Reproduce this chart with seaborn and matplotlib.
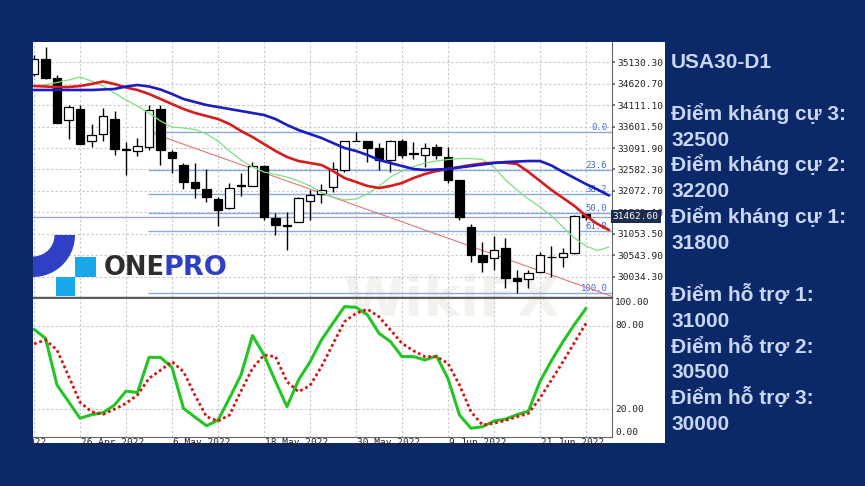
import numpy as np
import pandas as pd
import matplotlib
matplotlib.use("Agg")
import matplotlib.pyplot as plt
import seaborn as sns
from matplotlib.patches import Rectangle, Wedge
from matplotlib.transforms import blended_transform_factory

# ---------------- data ----------------
bar_index = list(range(49))
opens = [34859, 35216, 34764, 33751, 34027, 33252, 33426, 33775, 33062, 33022,
         33117, 34013, 33005, 32682, 32292, 32111, 31881, 31660, 32206, 32197,
         32672, 31422, 31263, 31341, 31833, 31992, 32159, 32570, 33267, 33267,
         33086, 32808, 33267, 32967, 32927, 33110, 32886, 32332, 31222, 30550,
         30478, 30709, 29996, 29972, 30153, 30509, 30495, 30590, 31517]
highs = [35304, 35494, 34821, 34122, 34122, 33671, 34044, 33965, 33236, 33331,
         34108, 34115, 33045, 32729, 32729, 32587, 31935, 32268, 32492, 32753,
         32689, 31555, 31579, 31935, 32095, 32237, 32767, 33267, 33481, 33270,
         33205, 33280, 33300, 33229, 33205, 33190, 33110, 32340, 31287, 30866,
         31008, 30947, 30193, 30193, 30628, 30764, 30709, 31500, 31525]
lows = [34804, 34726, 33687, 33314, 33180, 33117, 33252, 32919, 32458, 32896,
        33038, 32689, 32492, 32111, 31897, 31817, 31239, 31650, 31952, 32190,
        31382, 31025, 30668, 31330, 31382, 31778, 32054, 32530, 33250, 32767,
        32570, 32530, 32848, 32824, 32649, 32824, 32254, 31382, 30390, 30153,
        30193, 29758, 29654, 29758, 30140, 30034, 30271, 30580, 31382]
closes = [35216, 34757, 33694, 34068, 33195, 33395, 33854, 33062, 33045, 33133,
          33989, 33045, 32848, 32278, 32135, 31921, 31619, 32149, 32197, 32672,
          31446, 31263, 31250, 31897, 31976, 32095, 32594, 33267, 33260, 33086,
          32808, 33267, 32927, 32960, 33086, 32927, 32332, 31460, 30550, 30390,
          30680, 29996, 29939, 30129, 30550, 30500, 30590, 31484, 31462.6]

# Alligator-style moving averages (shifted forward past the last bar)
ma_index = list(range(51))
jaw_blue = [34472, 34472, 34472, 34472, 34472, 34472, 34484, 34496, 34555, 34591,
            34555, 34484, 34377, 34258, 34186, 34115, 34068, 34020, 33973, 33925,
            33877, 33782, 33640, 33521, 33426, 33331, 33212, 33093, 33022, 32927,
            32808, 32736, 32665, 32594, 32570, 32582, 32594, 32630, 32665, 32701,
            32736, 32760, 32772, 32784, 32784, 32677, 32523, 32380, 32237, 32107,
            31964]
teeth_red = [34567, 34555, 34543, 34543, 34567, 34614, 34674, 34614, 34531, 34472,
             34377, 34258, 34139, 34020, 33925, 33854, 33782, 33664, 33497, 33354,
             33188, 33022, 32879, 32784, 32736, 32689, 32546, 32380, 32285, 32190,
             32142, 32190, 32261, 32380, 32475, 32546, 32594, 32641, 32689, 32725,
             32744, 32744, 32713, 32523, 32309, 32095, 31905, 31714, 31477, 31287,
             31144]
lips_green = [34567, 34602, 34650, 34709, 34781, 34686, 34567, 34400, 34234, 34091,
              33925, 33735, 33592, 33568, 33533, 33426, 33259, 33022, 32808, 32641,
              32523, 32463, 32404, 32309, 32190, 32035, 31928, 31857, 31881, 32000,
              32190, 32404, 32546, 32653, 32736, 32784, 32820, 32843, 32843, 32820,
              32641, 32332, 32095, 31881, 31691, 31477, 31215, 30954, 30763, 30657,
              30740]

stoch_main = [77.5, 71, 37.4, 25.5, 13.5, 16, 17.5, 23, 33, 32,
              57.3, 57.3, 50, 20.6, 14.3, 8.1, 12, 28, 44.6, 73,
              59, 40, 21.8, 41, 54, 69.8, 82, 93.8, 93.3, 87.8,
              74.6, 68.6, 57.8, 57.8, 55.4, 58.3, 42, 15.8, 6.3, 7.4,
              11.5, 12.9, 16, 18.7, 40, 55, 68.6, 81, 92.6]
stoch_signal = [67, 69.8, 62.6, 44, 25, 18.2, 16.3, 20, 24.2, 30.2,
                42.2, 48, 54.2, 47, 30, 14.6, 11.5, 15.8, 33, 49.4,
                59, 57.8, 39.8, 32.6, 37, 50.6, 67, 83, 89, 91.9,
                86.5, 77, 67.4, 62, 57.8, 57.8, 53, 37.4, 18.2, 8.6,
                9.8, 12, 14.5, 17, 28, 41, 54.2, 68, 81.8]

price_ticks = [35130.30, 34620.70, 34111.10, 33601.50, 33091.90, 32582.30,
               32072.70, 31563.10, 31053.50, 30543.90, 30034.30]
stoch_ticks = [100, 80, 20, 0]
date_tick_pos = [-4.5, 4, 12, 20, 28, 36, 44]
date_tick_labels = ["14 Apr 2022", "26 Apr 2022", "6 May 2022", "18 May 2022",
                    "30 May 2022", "9 Jun 2022", "21 Jun 2022"]
grid_x = list(range(0, 49, 4))

fib_levels = [0.0, 23.6, 38.2, 50.0, 61.8, 100.0]
fib_high = 33462
fib_low = 29658
fib_start = 9.9
trend_x = [10, 50.2]
trend_y = [33475, 29570]
last_price = 31462.60

title_lines = ["USA30-D1", "Điểm kháng cự 3:", "32500", "Điểm kháng cự 2:", "32200",
               "Điểm kháng cự 1:", "31800", "Điểm hỗ trợ 1:", "31000",
               "Điểm hỗ trợ 2:", "30500", "Điểm hỗ trợ 3:", "30000"]
title_baselines = [68.3, 120, 146, 171, 196.7, 223.3, 249, 301, 326.7, 353.3, 378.3, 404.3, 430]

# ---------------- styling / layout ----------------
sns.set_theme(style="white")
plt.rcParams['font.family'] = ['DejaVu Sans']
MONO = 'DejaVu Sans Mono'
BG = '#0b2868'
W, H = 865, 486


def fx(px):
    return px / W


def fy(py):
    return 1 - py / H


fig = plt.figure(figsize=(8.65, 4.86), dpi=100, facecolor=BG)

panel = Rectangle((fx(33), fy(443)), fx(665) - fx(33), fy(42) - fy(443),
                  transform=fig.transFigure, facecolor='white', edgecolor='none', zorder=-2)
fig.add_artist(panel)

# watermark
fig.text(fx(343), fy(300), "WikiFX", fontsize=40, weight='bold', color='#d9d3c9',
         alpha=0.28, va='center', ha='left', zorder=-1)

xmin, xmax = -0.087, 50.235
grid_kw = dict(color='#c8c8c8', linestyle=(0, (2, 2)), linewidth=0.8)

# ---------- price panel ----------
ax = fig.add_axes([fx(33), fy(297), fx(611.7) - fx(33), fy(42) - fy(297)])
ax.set_facecolor('none')
ax.set_xlim(xmin, xmax)
ax.set_ylim(29551.5, 35612.9)
ax.set_xticks(grid_x)
ax.set_xticklabels([])
ax.set_yticks(price_ticks)
ax.set_yticklabels([f"{v:.2f}" for v in price_ticks], fontfamily=MONO, fontsize=6.8, color='#222222')
ax.yaxis.tick_right()
ax.tick_params(axis='y', length=2, pad=2, color='#666666', right=True, left=False)
ax.tick_params(axis='x', length=0)
ax.grid(True, **grid_kw)
ax.set_axisbelow(True)
for s in ['left', 'top']:
    ax.spines[s].set_visible(False)
ax.spines['right'].set_color('#666666')
ax.spines['right'].set_linewidth(0.8)
ax.spines['bottom'].set_color('#555555')
ax.spines['bottom'].set_linewidth(1.0)

df = pd.DataFrame({'i': bar_index, 'open': opens, 'high': highs, 'low': lows, 'close': closes})

# fibonacci levels + trend line + last price line
fib_prices = [fib_high - (fib_high - fib_low) * lv / 100 for lv in fib_levels]
ax.hlines(fib_prices, fib_start, xmax, color='#8aaae2', linewidth=1.0, zorder=2)
for lv, p in zip(fib_levels, fib_prices):
    ax.text(49.85, p, f"{lv:.1f}", ha='right', va='bottom', color='#3d6fd6',
            fontsize=6.5, fontfamily=MONO, zorder=2)
sns.lineplot(x=trend_x, y=trend_y, ax=ax, color='#e07878', linewidth=0.8, zorder=2)
ax.axhline(last_price, color='#a0aabb', linewidth=1.0, zorder=2)

# candles
ax.vlines(df['i'], df['low'], df['high'], color='black', linewidth=1.0, zorder=3)
body_bottom = np.minimum(df['open'], df['close'])
body_h = np.maximum(np.abs(df['close'] - df['open']), 1.0)
body_col = ['white' if c > o else 'black' for o, c in zip(df['open'], df['close'])]
ax.bar(df['i'], body_h, bottom=body_bottom, width=0.72, color=body_col,
       edgecolor='black', linewidth=0.9, zorder=4)

# moving averages
sns.lineplot(x=ma_index, y=lips_green, ax=ax, color='#7fe07f', linewidth=0.9, zorder=5)
sns.lineplot(x=ma_index, y=teeth_red, ax=ax, color='#d61c1c', linewidth=1.9, zorder=6)
sns.lineplot(x=ma_index, y=jaw_blue, ax=ax, color='#1c1cc2', linewidth=1.9, zorder=6)
ax.set_xlim(xmin, xmax)
ax.set_ylim(29551.5, 35612.9)
ax.set_xlabel('')
ax.set_ylabel('')

ax.text(1.002, last_price, f"{last_price:.2f}", transform=ax.get_yaxis_transform(),
        ha='left', va='center', color='white', fontsize=6.8, fontfamily=MONO,
        bbox=dict(boxstyle='square,pad=0.18', fc='#1d2c4c', ec='none'),
        zorder=10, clip_on=False)

# ---------- stochastic panel ----------
ax2 = fig.add_axes([fx(33), fy(437), fx(611.7) - fx(33), fy(298) - fy(437)])
ax2.set_facecolor('none')
ax2.set_xlim(xmin, xmax)
ax2.set_ylim(0, 100)
ax2.set_xticks(grid_x)
ax2.set_xticklabels([])
ax2.set_yticks([20, 80])
ax2.set_yticklabels([])
ax2.tick_params(length=0)
ax2.grid(True, **grid_kw)
ax2.set_axisbelow(True)
ax2.spines['left'].set_visible(False)
for s in ['right', 'bottom', 'top']:
    ax2.spines[s].set_color('#666666')
    ax2.spines[s].set_linewidth(0.8)

sns.lineplot(x=bar_index, y=stoch_main, ax=ax2, color='#25c425', linewidth=2.2, zorder=4)
sns.lineplot(x=bar_index, y=stoch_signal, ax=ax2, color='#d01818', linewidth=2.0,
             linestyle=(0, (1, 1)), zorder=5)
ax2.set_xlim(xmin, xmax)
ax2.set_ylim(0, 100)
ax2.set_xlabel('')
ax2.set_ylabel('')

ytr = ax2.get_yaxis_transform()
for v in stoch_ticks:
    va = 'top' if v == 100 else ('bottom' if v == 0 else 'center')
    ax2.text(1.006, v, f"{v:.2f}", transform=ytr, ha='left', va=va, fontsize=6.8,
             fontfamily=MONO, color='#222222', clip_on=False)

xtr = blended_transform_factory(ax2.transData, ax2.transAxes)
for p, lab in zip(date_tick_pos, date_tick_labels):
    ax2.text(p + 0.05, -0.005, lab, transform=xtr, ha='left', va='top', fontsize=6.8,
             fontfamily=MONO, color='#222222', clip_on=False)

# cover overflow at the left of the white panel
cover = Rectangle((0, fy(445)), fx(33), fy(40) - fy(445), transform=fig.transFigure,
                  facecolor=BG, edgecolor='none', zorder=10)
fig.add_artist(cover)

# ---------- ONEPRO logo ----------
logo_blue = '#2f40c6'
logo_cyan = '#19a9ea'
fig.add_artist(Wedge((0.33, (H - 235) / 100), 0.42, 270, 360, width=0.205,
                     transform=fig.dpi_scale_trans, facecolor=logo_blue, edgecolor='none', zorder=11))
fig.add_artist(Rectangle((0.75, (H - 276.7) / 100), 0.21, 0.20, transform=fig.dpi_scale_trans,
                         facecolor=logo_cyan, edgecolor='none', zorder=11))
fig.add_artist(Rectangle((0.56, (H - 296) / 100), 0.19, 0.193, transform=fig.dpi_scale_trans,
                         facecolor=logo_cyan, edgecolor='none', zorder=11))
fig.text(fx(104), fy(275), "ONE", fontsize=18.5, weight='bold', color='#2d2d2d',
         ha='left', va='baseline', zorder=12)
fig.text(fx(163), fy(275), "PRO", fontsize=19.5, weight='bold', color=logo_blue,
         ha='left', va='baseline', zorder=12)

# ---------- right text block ----------
for txt, b in zip(title_lines, title_baselines):
    fig.text(fx(671), fy(b), txt, fontsize=15, weight='bold', color='#c9d7f4',
             family=['Liberation Sans', 'DejaVu Sans'], ha='left', va='baseline', zorder=12)

fig.savefig('out.png', dpi=100, facecolor=BG)
